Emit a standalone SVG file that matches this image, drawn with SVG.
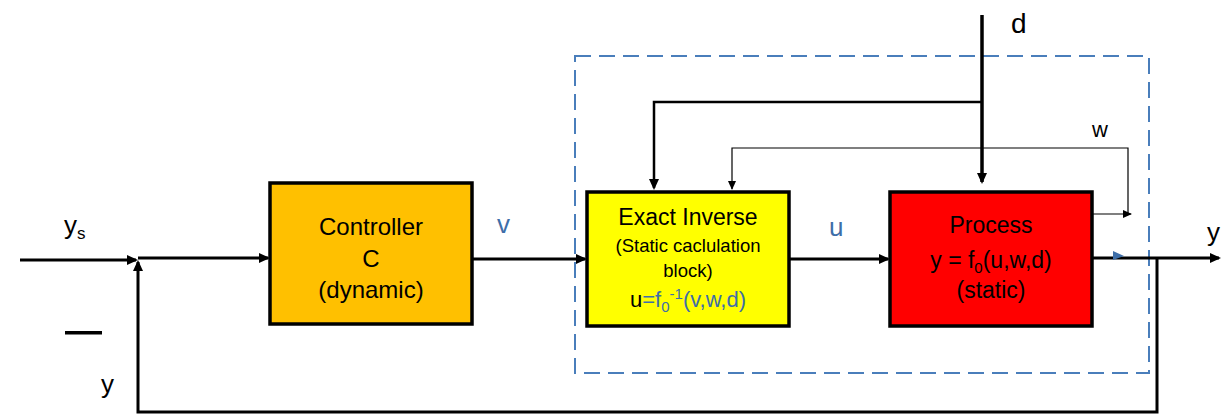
<svg xmlns="http://www.w3.org/2000/svg" width="1221" height="416" viewBox="0 0 1221 416">
  <style>
    .lbl { font-family: "Liberation Sans", Arial, sans-serif; fill: #000; }
    .blue { fill: #3E6EA8; }
    .box { stroke: #000; stroke-width: 3.5; }
    .wire { fill: none; stroke: #000; stroke-width: 3; }
    .thin { fill: none; stroke: #000; stroke-width: 1.2; }
  </style>
  <defs>
    <marker id="ah" markerUnits="userSpaceOnUse" markerWidth="11" markerHeight="10" refX="9" refY="5" orient="auto">
      <path d="M0,0 L11,5 L0,10 z" fill="#000"/>
    </marker>
    <marker id="ahs" markerUnits="userSpaceOnUse" markerWidth="9" markerHeight="8" refX="8" refY="4" orient="auto">
      <path d="M0,0 L9,4 L0,8 z" fill="#000"/>
    </marker>
  </defs>

  <rect id="boundary" x="575" y="56" width="574" height="317" fill="none" stroke="#4A7EBB" stroke-width="2" stroke-dasharray="16 8"/>

  <g id="connectors">
    <path class="wire" d="M20,260 L136,260" marker-end="url(#ah)"/>
    <path class="wire" d="M138,258 L268,258" marker-end="url(#ah)"/>
    <path class="wire" d="M472,259 L585,259" marker-end="url(#ah)"/>
    <path class="wire" d="M789,259 L888,259" marker-end="url(#ah)"/>
    <path class="wire" d="M1092,258 L1219,258" marker-end="url(#ah)"/>
    <path class="wire" d="M1157,258 L1157,412 L138,412 L138,262" marker-end="url(#ah)"/>
    <path class="wire" d="M982,15 L982,182" marker-end="url(#ah)" style="stroke-width:3.5"/>
    <path class="wire" d="M982,102 L654,102 L654,188" marker-end="url(#ah)" style="stroke-width:2.5"/>
    <path class="thin" d="M1092,214 L1131,214" marker-end="url(#ahs)"/>
    <path class="thin" d="M1128,214 L1128,148 L732,148 L732,189" marker-end="url(#ahs)"/>
    <polygon points="1113,251 1124,256 1113,260" fill="#3E6EA8"/>
  </g>

  <g id="controller">
    <rect class="box" x="270" y="183" width="202" height="141" fill="#FFC000"/>
    <text class="lbl" x="371" y="235" font-size="24" text-anchor="middle">Controller</text>
    <text class="lbl" x="371" y="267" font-size="24" text-anchor="middle">C</text>
    <text class="lbl" x="371" y="298" font-size="24" text-anchor="middle">(dynamic)</text>
  </g>

  <g id="inverse">
    <rect class="box" x="587" y="192" width="202" height="134" fill="#FFFF00"/>
    <text class="lbl" x="688" y="225" font-size="23" text-anchor="middle">Exact Inverse</text>
    <text class="lbl" x="688" y="252" font-size="18.5" text-anchor="middle">(Static caclulation</text>
    <text class="lbl" x="688" y="277" font-size="18.5" text-anchor="middle">block)</text>
    <text class="lbl" x="688" y="307" font-size="22" text-anchor="middle">u<tspan class="blue">=f<tspan font-size="15" dy="5">0</tspan><tspan font-size="15" dy="-13">-1</tspan><tspan dy="8">(v,w,d)</tspan></tspan></text>
  </g>

  <g id="process">
    <rect class="box" x="890" y="192" width="202" height="134" fill="#FF0000"/>
    <text class="lbl" x="991" y="233" font-size="23" text-anchor="middle">Process</text>
    <text class="lbl" x="991" y="268" font-size="23" text-anchor="middle">y = f<tspan font-size="15" dy="5">0</tspan><tspan dy="-5">(u,w,d)</tspan></text>
    <text class="lbl" x="991" y="298" font-size="23" text-anchor="middle">(static)</text>
  </g>

  <g id="labels">
    <text class="lbl" x="64" y="234" font-size="26">y<tspan font-size="17" dy="5">s</tspan></text>
    <rect x="65" y="331" width="37" height="3.5" fill="#000"/>
    <text class="lbl" x="101" y="393" font-size="26">y</text>
    <text class="lbl blue" x="497" y="233" font-size="26">v</text>
    <text class="lbl blue" x="829" y="236" font-size="26">u</text>
    <text class="lbl" x="1011" y="33" font-size="28">d</text>
    <text class="lbl" x="1092" y="137" font-size="22">w</text>
    <text class="lbl" x="1207" y="241" font-size="26">y</text>
  </g>
</svg>
